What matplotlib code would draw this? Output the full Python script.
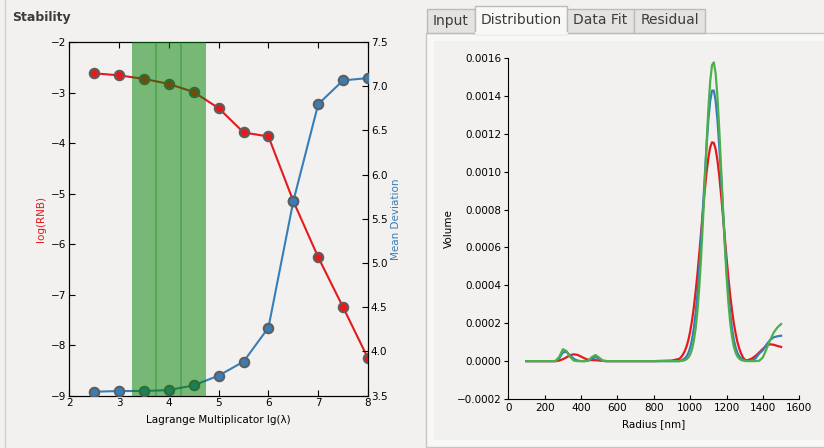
import matplotlib
matplotlib.use('Agg')
import matplotlib.pyplot as plt
from matplotlib.patches import Rectangle
from matplotlib.lines import Line2D
from matplotlib.ticker import FuncFormatter, MultipleLocator

# ---------------- data: stability (L-curve) ----------------
lg_lambda = [2.5, 3.0, 3.5, 4.0, 4.5, 5.0, 5.5, 6.0, 6.5, 7.0, 7.5, 8.0]
log_rnb = [-2.62, -2.66, -2.73, -2.83, -2.99, -3.31, -3.79, -3.87, -5.15, -6.26, -7.25, -8.26]
mean_dev = [3.545, 3.553, 3.553, 3.564, 3.617, 3.727, 3.885, 4.27, 5.70, 6.797, 7.066, 7.092]
selected = [3.5, 4.0, 4.5]

# ---------------- data: size distributions ----------------
radius = [100, 200, 240, 260, 280, 300, 320, 340, 360, 380, 400, 420, 440, 460, 480,
          500, 520, 540, 600, 700, 800, 900, 940,
          950, 960, 970, 980, 990, 1000, 1010, 1020, 1030, 1040, 1050, 1060, 1070, 1080,
          1090, 1100, 1110, 1120, 1130, 1140, 1150, 1160, 1170, 1180, 1190, 1200, 1210,
          1220, 1230, 1240, 1250, 1260, 1270, 1280, 1290, 1300, 1310, 1320,
          1340, 1360, 1380, 1400, 1420, 1440, 1460, 1480, 1500]

vol_red = [0, 0, 0, 0, 0.000003, 0.000010, 0.000020, 0.000031, 0.000036, 0.000033, 0.000024,
           0.000014, 0.000007, 0.000005, 0.000005, 0.000003, 0.000001, 0, 0, 0, 0, 0.000003,
           0.000012,
           0.000021, 0.000034, 0.000052, 0.000077, 0.000111, 0.000156, 0.000213, 0.000283,
           0.000366, 0.000461, 0.000567, 0.000679, 0.000792, 0.000899, 0.000995, 0.001073,
           0.001128, 0.001155, 0.001152, 0.001119, 0.001059, 0.000977, 0.000878, 0.000769,
           0.000656, 0.000545, 0.000441, 0.000348, 0.000268, 0.000200, 0.000146, 0.000100,
           0.000066, 0.000040, 0.000020, 0.000008, 0.000004, 0.000006,
           0.000014, 0.000028, 0.000046, 0.000065, 0.000082, 0.000089, 0.000086, 0.000080,
           0.000075]

vol_blue = [0, 0, 0, 0, 0.000015, 0.000046, 0.000049, 0.000030, 0.000012, 0.000003, 0, 0,
            0.000002, 0.000014, 0.000021, 0.000013, 0.000002, 0, 0, 0, 0, 0, 0,
            0.000004, 0.000008, 0.000014, 0.000025, 0.000043, 0.000071, 0.000113, 0.000172,
            0.000253, 0.000358, 0.000487, 0.000637, 0.000802, 0.000972, 0.001134, 0.001273,
            0.001374, 0.001428, 0.001428, 0.001374, 0.001273, 0.001134, 0.000972, 0.000802,
            0.000637, 0.000487, 0.000358, 0.000253, 0.000172, 0.000113, 0.000071, 0.000043,
            0.000025, 0.000014, 0.000008, 0.000004, 0.000002, 0.000001,
            0.000003, 0.000015, 0.000040, 0.000058, 0.000088, 0.000112, 0.000126, 0.000131,
            0.000134]

vol_green = [0, 0, 0, 0.000001, 0.000022, 0.000063, 0.000053, 0.000022, 0.000003, 0, 0, 0,
             0.000002, 0.000022, 0.000032, 0.000018, 0.000002, 0, 0, 0, 0, 0, 0,
             0.000001, 0.000002, 0.000005, 0.000010, 0.000019, 0.000035, 0.000062, 0.000106,
             0.000171, 0.000264, 0.000389, 0.000547, 0.000733, 0.000937, 0.001143, 0.001330,
             0.001476, 0.001562, 0.001577, 0.001518, 0.001394, 0.001221, 0.001021, 0.000813,
             0.000619, 0.000449, 0.000310, 0.000205, 0.000129, 0.000077, 0.000044, 0.000024,
             0.000013, 0.000006, 0.000003, 0.000001, 0, 0,
             0, 0, 0.000002, 0.000020, 0.000065, 0.000112, 0.000152, 0.000178, 0.000196]

tab_names = ['Input', 'Distribution', 'Data Fit', 'Residual']
active_tab = 1

RED = '#e41a1c'
BLUE = '#377eb8'
GREEN = '#4daf4a'
BG = '#f2f1f0'
TXT = '#3c3c3c'

W, H = 824, 448
fig = plt.figure(figsize=(W / 100, H / 100), dpi=100, facecolor=BG)


def fx(x):
    return x / W


def fy(y):
    return 1 - y / H


# ---------------- GUI chrome (drawn below the axes) ----------------
fig.add_artist(Line2D([fx(4.5), fx(4.5)], [0, 1], color='#d3d1ce', lw=1, zorder=-10))
fig.text(fx(12), fy(17), 'Stability', fontsize=9, fontweight='bold', color=TXT,
         va='center', ha='left', family='DejaVu Sans')

fig.add_artist(Rectangle((fx(426.5), fy(446.5)), fx(840 - 426.5), (446.5 - 33) / H,
                         facecolor='#f8f8f7', edgecolor='#c8c6c3', lw=1, zorder=-10))
fig.add_artist(Rectangle((fx(434), fy(440)), fx(840 - 434), (440 - 41) / H,
                         facecolor=BG, edgecolor='none', zorder=-9))

tab_edges = [427, 475, 567, 634, 705]
for i, name in enumerate(tab_names):
    x0, x1 = tab_edges[i], tab_edges[i + 1]
    if i == active_tab:
        top, fc, bottom = 6.5, '#f8f8f7', 34.5
    else:
        top, fc, bottom = 9.0, '#e4e3e1', 33.0
    fig.add_artist(Rectangle((fx(x0), fy(bottom)), fx(x1 - x0), (bottom - top) / H,
                             facecolor=fc, edgecolor='#bdbbb7', lw=1, zorder=-8))
    fig.text(fx((x0 + x1) / 2), fy(20.5 if i != active_tab else 19.5), name, fontsize=10,
             color=TXT, ha='center', va='center', family='DejaVu Sans')
fig.add_artist(Line2D([fx(tab_edges[active_tab] + 0.8), fx(tab_edges[active_tab + 1] - 0.8)],
                      [fy(33.5), fy(33.5)], color='#f8f8f7', lw=2, zorder=-7))

# ---------------- left: stability plot ----------------
ax1 = fig.add_axes([69.3 / W, 1 - 395.7 / H, 298.7 / W, 353.7 / H], facecolor=BG)
ax1.plot(lg_lambda, log_rnb, '-o', color=RED, lw=1.5, ms=6.8, mec='#5e5e5e', mew=1.5,
         zorder=3)
ax1.set_xlim(2, 8)
ax1.set_ylim(-9, -2)
ax1.xaxis.set_major_locator(MultipleLocator(1))
ax1.yaxis.set_major_locator(MultipleLocator(1))
ax1.tick_params(direction='in', top=True, right=False, labelsize=7.5, length=4, width=0.8,
                pad=2)
ax1.set_xlabel('Lagrange Multiplicator lg(λ)', fontsize=7.5)
ax1.xaxis.set_label_coords(0.5, -0.055)
ax1.set_ylabel('log(RNB)', fontsize=7.5, color=RED)
ax1.yaxis.set_label_coords(-0.078, 0.5)

ax2 = ax1.twinx()
ax2.plot(lg_lambda, mean_dev, '-o', color=BLUE, lw=1.5, ms=6.8, mec='#5e5e5e', mew=1.5,
         zorder=3)
ax2.set_ylim(3.5, 7.5)
ax2.yaxis.set_major_locator(MultipleLocator(0.5))
ax2.yaxis.set_major_formatter(FuncFormatter(lambda v, p: '%.1f' % v))
ax2.tick_params(direction='in', labelsize=7.5, length=4, width=0.8, pad=2)
ax2.set_ylabel('Mean Deviation', fontsize=7.5, color=BLUE)
ax2.yaxis.set_label_coords(1.077, 0.5)
for s in selected:
    ax2.axvspan(s - 0.25, s + 0.25, facecolor='green', edgecolor='none', alpha=0.5,
                lw=0, zorder=5)
for a, b in zip(selected[:-1], selected[1:]):
    ax2.axvline((a + b) / 2, color='green', alpha=0.35, lw=1.2, zorder=6)
ax2.set_xlim(2, 8)

# ---------------- right: distribution plot ----------------
ax3 = fig.add_axes([508.3 / W, 1 - 399 / H, 291 / W, 341 / H], facecolor=BG)
ax3.plot(radius, vol_red, color=RED, lw=1.6)
ax3.plot(radius, vol_blue, color=BLUE, lw=1.6)
ax3.plot(radius, vol_green, color=GREEN, lw=1.6)
ax3.set_xlim(0, 1600)
ax3.set_ylim(-0.0002, 0.0016)
ax3.xaxis.set_major_locator(MultipleLocator(200))
ax3.yaxis.set_major_locator(MultipleLocator(0.0002))


def vfmt(v, p):
    if abs(v) < 1e-12:
        return '0.0000'
    return ('%.4f' % v).replace('-', '\u2212')


ax3.yaxis.set_major_formatter(FuncFormatter(vfmt))
ax3.spines['top'].set_visible(False)
ax3.spines['right'].set_visible(False)
ax3.tick_params(axis='y', direction='out', left=True, right=False, labelsize=7.5, length=3,
                width=0.8, pad=2)
ax3.tick_params(axis='x', direction='in', top=False, bottom=True, labelsize=7.5, length=3,
                width=0.8, pad=3)
ax3.set_xlabel('Radius [nm]', fontsize=7.5)
ax3.xaxis.set_label_coords(0.5, -0.06)
ax3.set_ylabel('Volume', fontsize=7.5)
ax3.yaxis.set_label_coords(-0.187, 0.5)

fig.savefig('out.png', dpi=100, facecolor=BG)
